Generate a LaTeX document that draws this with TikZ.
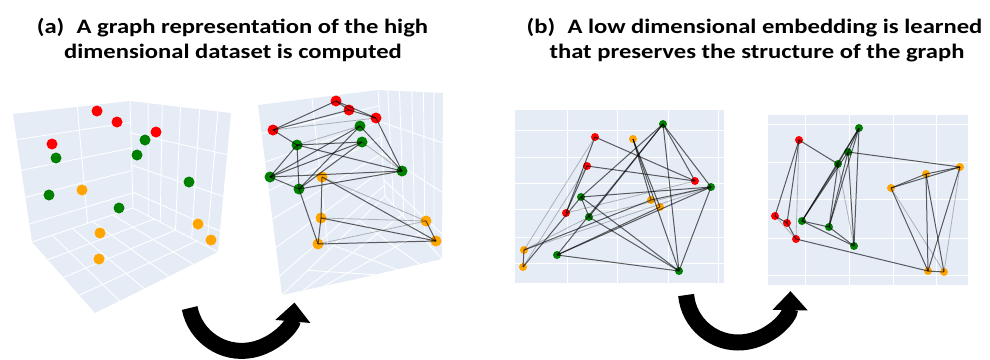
\documentclass[tikz,border=0pt]{standalone}
\usepackage{fontspec}
\setmainfont{Carlito}
\usetikzlibrary{calc,arrows.meta}
\definecolor{plotbg}{HTML}{E5ECF6}
\definecolor{ptred}{HTML}{FF0000}
\definecolor{ptgreen}{HTML}{008000}
\definecolor{ptorange}{HTML}{FFA500}
\newcommand{\wide}[1]{\scalebox{1.2}[1]{#1}}
\begin{document}
\begin{tikzpicture}[x=1pt,y=-1pt,
  gl/.style={draw=white,line width=0.9pt},
  ed/.style={draw=black,line width=1pt,draw opacity=0.62},
  edl/.style={draw=black,line width=0.8pt,draw opacity=0.25},
  bigdot/.style={circle,inner sep=0pt,minimum size=11pt},
  smalldot/.style={circle,inner sep=0pt,minimum size=8pt},
  bR/.style={bigdot,fill=ptred},
  bG/.style={bigdot,fill=ptgreen},
  bO/.style={bigdot,fill=ptorange},
  sR/.style={smalldot,fill=ptred},
  sG/.style={smalldot,fill=ptgreen},
  sO/.style={smalldot,fill=ptorange},
  ttl/.style={anchor=base,inner sep=0pt,font=\bfseries\fontsize{20.5}{24}\selectfont},
  turn/.style={line width=16pt,-{Triangle[width=34pt,length=19pt]}}
]
\useasboundingbox (0,0) rectangle (990,359);

% ---------- titles ----------
\node[ttl] (ta1) at (232.5,33.5) {\wide{(a)\hspace{0.5em}A graph representation of the high}};
\node[ttl] (ta2) at (233,58) {\wide{dimensional dataset is computed}};
\node[ttl] (tb1) at (754.5,33.5) {\wide{(b)\hspace{0.5em}A low dimensional embedding is learned}};
\node[ttl] (tb2) at (757,58) {\wide{that preserves the structure of the graph}};

% ---------- panel 1: 3D box ----------
\coordinate (aLt) at (13,114); \coordinate (aBt) at (130,101); \coordinate (aRt) at (231,113);
\coordinate (aRb) at (218,252); \coordinate (aBb) at (133,208); \coordinate (aLb) at (32,242);
\coordinate (aF) at (95,313);
\fill[plotbg] (aLt)--(aBt)--(aRt)--(aRb)--(aF)--(aLb)--cycle;
\foreach \t in {0.2,0.44,0.65,0.86} \draw[gl] ($(aLt)!\t!(aLb)$) -- ($(aBt)!\t!(aBb)$);
\foreach \t in {0.55} \draw[gl] ($(aLt)!\t!(aBt)$) -- ($(aLb)!\t!(aBb)$);
\foreach \t in {0.18,0.32,0.5,0.69,0.87} \draw[gl] ($(aBt)!\t!(aRt)$) -- ($(aBb)!\t!(aRb)$);
\foreach \t in {0.3,0.6,0.85} \draw[gl] ($(aBt)!\t!(aBb)$) -- ($(aRt)!\t!(aRb)$);
\foreach \t in {0.25,0.5,0.75} \draw[gl] ($(aBb)!\t!(aRb)$) -- ($(aLb)!\t!(aF)$);
\foreach \t in {0.2,0.4,0.6,0.8} \draw[gl] ($(aBb)!\t!(aLb)$) -- ($(aRb)!\t!(aF)$);
\draw[gl] (aBt)--(aBb)--(aLb) (aBb)--(aRb);

\node[bR] (ar1) at (97,111) {}; \node[bR] (ar2) at (117,122) {};
\node[bR] (ar3) at (156,132) {}; \node[bR] (ar4) at (52,144) {};
\node[bG] (ag1) at (145,140) {}; \node[bG] (ag2) at (56,158) {};
\node[bG] (ag3) at (137,155) {}; \node[bG] (ag4) at (189,182) {};
\node[bG] (ag5) at (49,195) {}; \node[bG] (ag6) at (119,208) {};
\node[bO] (ao1) at (82,190) {}; \node[bO] (ao2) at (100,233) {};
\node[bO] (ao3) at (99,259) {}; \node[bO] (ao4) at (198,224) {};
\node[bO] (ao5) at (211,240) {};

% ---------- panel 2: 3D box with graph ----------
\coordinate (qLt) at (258,105); \coordinate (qBt) at (378,90); \coordinate (qRt) at (443,93);
\coordinate (qRb) at (442,259); \coordinate (qBb) at (385,196); \coordinate (qLb) at (282,295);
\coordinate (qF) at (352,280);
\fill[plotbg] (qLt)--(qBt)--(qRt)--(qRb)--(qF)--(qLb)--cycle;
\foreach \t in {0.15,0.3,0.45,0.6,0.75,0.9} \draw[gl] ($(qLt)!\t!(qLb)$) -- ($(qBt)!\t!(qBb)$);
\foreach \t in {0.45} \draw[gl] ($(qLt)!\t!(qBt)$) -- ($(qLb)!\t!(qBb)$);
\foreach \t in {0.15,0.33,0.52,0.7,0.86} \draw[gl] ($(qBt)!\t!(qRt)$) -- ($(qBb)!\t!(qRb)$);
\foreach \t in {0.3,0.6,0.85} \draw[gl] ($(qBt)!\t!(qBb)$) -- ($(qRt)!\t!(qRb)$);
\foreach \t in {0.3,0.6} \draw[gl] ($(qBb)!\t!(qRb)$) -- ($(qLb)!\t!(qF)$);
\foreach \t in {0.25,0.5,0.75} \draw[gl] ($(qBb)!\t!(qLb)$) -- ($(qRb)!\t!(qF)$);
\draw[gl] (qBt)--(qBb)--(qLb) (qBb)--(qRb);

\node[bR] (qr1) at (336,101) {}; \node[bR] (qr2) at (349,110) {};
\node[bR] (qr3) at (376,118) {}; \node[bR] (qr4) at (273,130) {};
\node[bG] (qg1) at (360,126) {}; \node[bG] (qg2) at (297,145) {};
\node[bG] (qg3) at (362,142) {}; \node[bG] (qg4) at (402,171) {};
\node[bG] (qg5) at (270,177) {}; \node[bG] (qg6) at (299,189) {};
\node[bO] (qo1) at (322,177) {}; \node[bO] (qo2) at (321,218) {};
\node[bO] (qo3) at (318,244) {}; \node[bO] (qo4) at (426,221) {};
\node[bO] (qo5) at (436,241) {};

\foreach \a/\b in {qr1/qr2,qr1/qr3,qr1/qr4,qr2/qr3,qr2/qr4,qr4/qg2,qr3/qg4,qg2/qg3,qg2/qg4,
  qg2/qg5,qg2/qg6,qg5/qg3,qg5/qg1,qg5/qg4,qg5/qg6,qg6/qg3,qg6/qg1,qg6/qg4,qg6/qo3,qg1/qg4,
  qo1/qo2,qo1/qo5,qo2/qo3,qo2/qo5,qo3/qo5,qo4/qo5}
  \draw[ed] (\a.center) -- (\b.center);
\foreach \a/\b in {qr4/qr3,qg2/qg1,qg3/qg4,qo1/qo4,qo2/qo4,qo3/qo4}
  \draw[edl] (\a.center) -- (\b.center);

% ---------- panel 3: 2D embedding ----------
\fill[plotbg] (515,110) rectangle (724,283);
\foreach \x in {567,617,668,718} \draw[gl] (\x,110) -- (\x,283);
\foreach \y in {130,157,183,209,237,263} \draw[gl] (515,\y) -- (724,\y);

\node[sR] (cr1) at (595,137) {}; \node[sR] (cr2) at (587,166) {};
\node[sR] (cr3) at (695,181) {}; \node[sR] (cr4) at (566,213) {};
\node[sO] (co1) at (633,139) {}; \node[sO] (co2) at (651,200) {};
\node[sO] (co3) at (660,207) {}; \node[sO] (co4) at (524,250) {};
\node[sO] (co5) at (523,267) {};
\node[sG] (cg1) at (663,124) {}; \node[sG] (cg2) at (711,187) {};
\node[sG] (cg3) at (581,197) {}; \node[sG] (cg4) at (589,217) {};
\node[sG] (cg5) at (557,255) {}; \node[sG] (cg6) at (679,271) {};

\foreach \a/\b in {cr1/cr3,cr1/cr4,cr2/cr3,cr2/cr4,co1/co2,co1/cg6,co1/co3,
  cg1/cg2,cg1/cr3,cg1/cg6,cg1/cg3,cg1/cg5,cg1/cg4,cg2/cg3,cg2/cg6,cg2/co2,cg2/cg5,
  cg3/cg6,cg3/cg4,cg3/co5,cg4/cg6,co4/co2,co4/co5,cg5/cg6,cg5/co3}
  \draw[ed] (\a.center) -- (\b.center);
\foreach \a/\b in {cr1/co4,cr2/co5,cg2/cg4,cg2/co4,cr4/cr3,cg4/co4}
  \draw[edl] (\a.center) -- (\b.center);

% ---------- panel 4: 2D embedding ----------
\fill[plotbg] (768,115) rectangle (968,285);
\foreach \x in {805,849,893,936} \draw[gl] (\x,115) -- (\x,285);
\foreach \y in {124,162,199,238,275} \draw[gl] (768,\y) -- (968,\y);

\node[sR] (dr1) at (799,140) {}; \node[sR] (dr2) at (775,216) {};
\node[sR] (dr3) at (787,223) {}; \node[sR] (dr4) at (796,239) {};
\node[sG] (dg1) at (859,128) {}; \node[sG] (dg2) at (848,152) {};
\node[sG] (dg3) at (838,164) {}; \node[sG] (dg4) at (802,221) {};
\node[sG] (dg5) at (829,227) {}; \node[sG] (dg6) at (854,246) {};
\node[sO] (do1) at (891,188) {}; \node[sO] (do2) at (926,174) {};
\node[sO] (do3) at (960,167) {}; \node[sO] (do4) at (928,271) {};
\node[sO] (do5) at (944,272) {};

\foreach \a/\b in {dr1/dr2,dr1/dr3,dr1/dg3,dr2/dr3,dr3/dr4,dr4/do4,
  dg1/dg2,dg1/dg3,dg1/dg4,dg1/dg5,dg1/dg6,dg2/do3,dg2/dg4,dg2/dg5,dg2/dg6,
  dg3/dg4,dg3/dg5,dg4/dg5,dg4/dg6,dg5/dg6,
  do1/do2,do1/do3,do1/do4,do2/do3,do2/do4,do2/do5,do3/do4,do4/do5}
  \draw[ed] (\a.center) -- (\b.center);
\foreach \a/\b in {dr1/dr4,dr2/dr4,dg3/dg6,do1/do5,do3/do5}
  \draw[edl] (\a.center) -- (\b.center);

% ---------- turning arrows ----------
\coordinate (ca) at (241.7,297.9);
\coordinate (cb) at (738.2,290.2);
\draw[turn] ($(ca)+(169:53)$) arc[start angle=169,end angle=5,radius=53];
\draw[turn] ($(cb)+(174.7:52.3)$) arc[start angle=174.7,end angle=1,radius=52.3];
\end{tikzpicture}
\end{document}
